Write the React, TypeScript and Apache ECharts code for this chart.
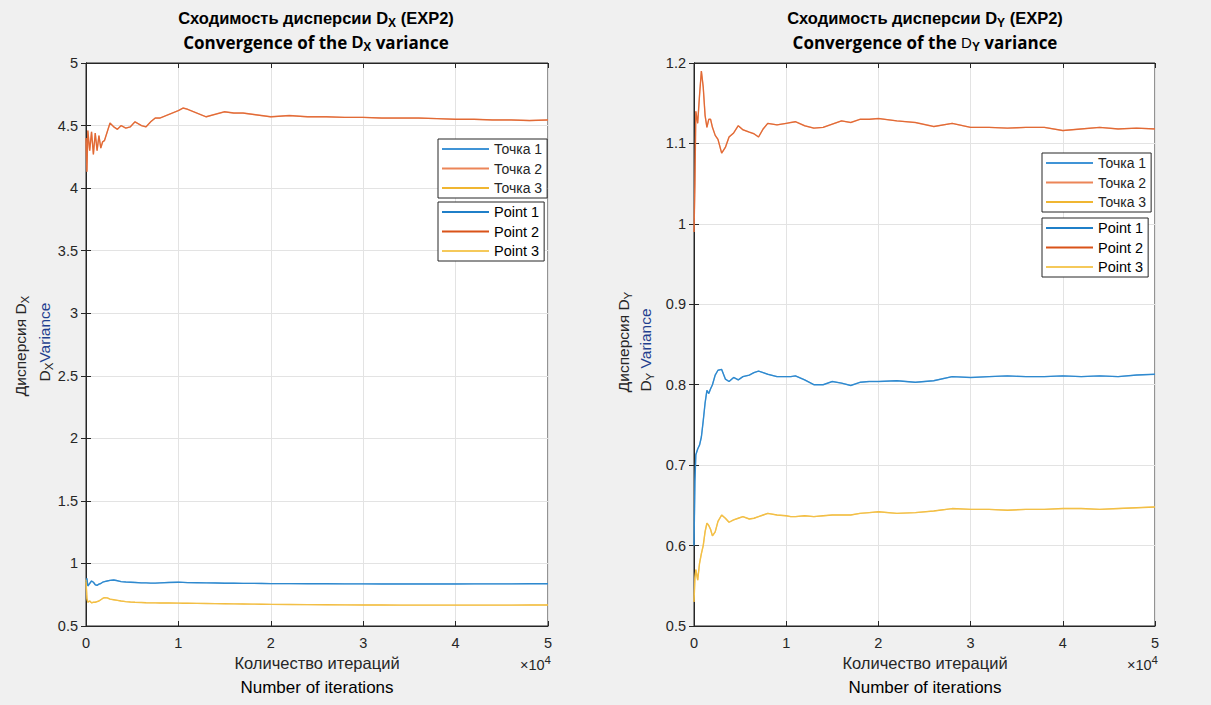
import React, { useEffect, useRef } from "react";
import * as echarts from "echarts";

const iterations = [
  0, 100, 200, 400, 600, 800, 1000, 1200, 1400, 1600, 1800, 2000, 2300, 2600, 3000, 3400, 3800, 4300, 4800, 5300,
  6000, 6500, 7000, 7500, 8000, 9000, 10000, 10500, 11000, 12000, 13000, 14000, 15000, 16000, 17000, 18000, 19000,
  20000, 22000, 24000, 26000, 28000, 30000, 32000, 34000, 36000, 38000, 40000, 42000, 44000, 46000, 48000, 50000,
];

const dxPoint1 = [
  0.85, 0.88, 0.82, 0.84, 0.86, 0.85, 0.83, 0.825, 0.835, 0.84, 0.85, 0.855, 0.86, 0.865, 0.868, 0.862, 0.855, 0.852,
  0.85, 0.848, 0.845, 0.845, 0.843, 0.843, 0.845, 0.848, 0.85, 0.849, 0.847, 0.846, 0.845, 0.844, 0.842, 0.842, 0.841,
  0.841, 0.84, 0.839, 0.839, 0.838, 0.838, 0.837, 0.837, 0.836, 0.836, 0.836, 0.836, 0.836, 0.837, 0.837, 0.837,
  0.838, 0.838,
];
const dxPoint2 = [
  4.4, 4.13, 4.46, 4.3, 4.45, 4.27, 4.44, 4.3, 4.42, 4.32, 4.37, 4.38, 4.45, 4.52, 4.49, 4.47, 4.5, 4.48, 4.49, 4.53,
  4.5, 4.49, 4.53, 4.56, 4.56, 4.59, 4.62, 4.64, 4.63, 4.6, 4.57, 4.59, 4.61, 4.6, 4.6, 4.59, 4.58, 4.57, 4.58, 4.57,
  4.57, 4.565, 4.565, 4.56, 4.56, 4.56, 4.555, 4.55, 4.55, 4.545, 4.545, 4.54, 4.545,
];
const dxPoint3 = [
  0.87, 0.72, 0.69, 0.7, 0.685, 0.69, 0.69, 0.695, 0.7, 0.71, 0.72, 0.727, 0.725, 0.715, 0.71, 0.705, 0.7, 0.695,
  0.692, 0.69, 0.688, 0.686, 0.685, 0.685, 0.684, 0.684, 0.683, 0.682, 0.682, 0.681, 0.68, 0.679, 0.678, 0.677,
  0.676, 0.675, 0.674, 0.673, 0.672, 0.671, 0.67, 0.669, 0.668, 0.668, 0.667, 0.667, 0.667, 0.667, 0.667, 0.667,
  0.667, 0.668, 0.668,
];

const dyPoint1 = [
  0.6, 0.68, 0.713, 0.72, 0.725, 0.735, 0.755, 0.777, 0.793, 0.789, 0.795, 0.8, 0.812, 0.818, 0.819, 0.807, 0.804,
  0.809, 0.806, 0.81, 0.812, 0.815, 0.817, 0.815, 0.813, 0.81, 0.81, 0.81, 0.811, 0.806, 0.8, 0.8, 0.804, 0.802,
  0.799, 0.803, 0.804, 0.804, 0.805, 0.803, 0.805, 0.81, 0.809, 0.81, 0.811, 0.81, 0.81, 0.811, 0.81, 0.811, 0.81,
  0.812, 0.813,
];
const dyPoint2 = [
  0.99, 1.05, 1.14, 1.125, 1.16, 1.19, 1.17, 1.135, 1.12, 1.13, 1.13, 1.12, 1.11, 1.105, 1.088, 1.095, 1.108, 1.113,
  1.122, 1.117, 1.114, 1.112, 1.108, 1.118, 1.125, 1.123, 1.125, 1.126, 1.127, 1.122, 1.119, 1.12, 1.124, 1.128,
  1.126, 1.13, 1.13, 1.131, 1.128, 1.126, 1.121, 1.125, 1.12, 1.12, 1.119, 1.12, 1.12, 1.116, 1.118, 1.12, 1.118,
  1.119, 1.118,
];
const dyPoint3 = [
  0.53, 0.56, 0.57, 0.557, 0.578, 0.59, 0.6, 0.617, 0.628, 0.625, 0.62, 0.612, 0.617, 0.63, 0.638, 0.634, 0.629,
  0.632, 0.634, 0.636, 0.633, 0.634, 0.636, 0.638, 0.64, 0.638, 0.637, 0.636, 0.636, 0.637, 0.636, 0.637, 0.638,
  0.638, 0.638, 0.64, 0.641, 0.642, 0.64, 0.641, 0.643, 0.646, 0.645, 0.645, 0.644, 0.645, 0.645, 0.646, 0.646,
  0.645, 0.646, 0.647, 0.648,
];

const ruNames = ["Точка 1", "Точка 2", "Точка 3"];
const enNames = ["Point 1", "Point 2", "Point 3"];
const ruColors = ["#4094d6", "#ec8558", "#f0b631"];
const enColors = ["#1f7fc8", "#d95319", "#f5c95a"];

const F = "Liberation Sans, Arial, sans-serif";
const F2 = "Open Sans, Liberation Sans, sans-serif";
const AX = "#262626";

function App() {
  const ref = useRef<HTMLDivElement>(null);
  useEffect(() => {
    if (!ref.current) return;
    const chart = echarts.init(ref.current, undefined, { renderer: "svg" });

    const grids = [
      { left: 86, top: 63, width: 462, height: 563 },
      { left: 694, top: 63, width: 461, height: 563 },
    ];
    const yRanges = [
      { min: 0.5, max: 5, interval: 0.5 },
      { min: 0.5, max: 1.2, interval: 0.1 },
    ];

    const xAxes: any[] = [];
    const yAxes: any[] = [];
    grids.forEach((g, gi) => {
      xAxes.push({
        type: "value",
        gridIndex: gi,
        min: 0,
        max: 50000,
        interval: 10000,
        position: "bottom",
        axisLine: { show: true, lineStyle: { color: AX, width: 1 } },
        axisTick: { show: true, inside: true, length: 5, lineStyle: { color: AX } },
        axisLabel: { color: AX, fontSize: 14.5, fontFamily: F, margin: 9, formatter: (v: number) => String(v / 10000) },
        splitLine: { show: true, lineStyle: { color: "#e3e3e3", width: 1 } },
      });
      xAxes.push({
        type: "value",
        gridIndex: gi,
        min: 0,
        max: 50000,
        interval: 10000,
        position: "top",
        axisLine: { show: true, lineStyle: { color: AX, width: 1 } },
        axisTick: { show: true, inside: true, length: 5, lineStyle: { color: AX } },
        axisLabel: { show: false },
        splitLine: { show: false },
      });
      yAxes.push({
        type: "value",
        gridIndex: gi,
        ...yRanges[gi],
        position: "left",
        axisLine: { show: true, lineStyle: { color: AX, width: 1 } },
        axisTick: { show: true, inside: true, length: 5, lineStyle: { color: AX } },
        axisLabel: { color: AX, fontSize: 14.5, fontFamily: F, margin: 8 },
        splitLine: { show: true, lineStyle: { color: "#e3e3e3", width: 1 } },
      });
      yAxes.push({
        type: "value",
        gridIndex: gi,
        ...yRanges[gi],
        position: "right",
        axisLine: { show: true, lineStyle: { color: AX, width: 1 } },
        axisTick: { show: true, inside: true, length: 5, lineStyle: { color: AX } },
        axisLabel: { show: false },
        splitLine: { show: false },
      });
    });

    const dataSets = [
      [dxPoint1, dxPoint2, dxPoint3],
      [dyPoint1, dyPoint2, dyPoint3],
    ];
    const series: any[] = [];
    dataSets.forEach((sets, gi) => {
      sets.forEach((vals, k) => {
        const data = iterations.map((x, i) => [x, vals[i]]);
        series.push({
          type: "line",
          name: ruNames[k],
          xAxisIndex: gi * 2,
          yAxisIndex: gi * 2,
          data,
          showSymbol: false,
          symbol: "none",
          color: ruColors[k],
          lineStyle: { width: 1.4, color: ruColors[k] },
          z: 2,
        });
      });
      sets.forEach((vals, k) => {
        const data = iterations.map((x, i) => [x, vals[i]]);
        series.push({
          type: "line",
          name: enNames[k],
          xAxisIndex: gi * 2,
          yAxisIndex: gi * 2,
          data,
          showSymbol: false,
          symbol: "none",
          color: enColors[k],
          lineStyle: { width: 1.2, color: enColors[k], opacity: 0.55 },
          z: 3,
        });
      });
    });

    const legendBase = {
      orient: "vertical",
      backgroundColor: "#ffffff",
      borderColor: AX,
      borderWidth: 1,
      borderRadius: 0,
      padding: [1, 5, 1, 4],
      itemGap: 1.5,
      itemWidth: 47,
      itemHeight: 2,
      icon: "rect",
      selectedMode: false,
    };
    const ruText = { fontSize: 14, color: AX, fontFamily: F, lineHeight: 18 };
    const enText = { fontSize: 14.5, color: "#000", fontFamily: F, lineHeight: 18 };
    const legends = [
      { ...legendBase, data: ruNames, left: 438, top: 139, textStyle: ruText },
      { ...legendBase, data: enNames, left: 438, top: 202, textStyle: enText },
      { ...legendBase, data: ruNames, left: 1042, top: 153, textStyle: ruText },
      { ...legendBase, data: enNames, left: 1042, top: 218, textStyle: enText },
    ];

    const mkTitle = (cx: number, letter: string, boldD: boolean) => [
      {
        type: "text",
        x: cx,
        y: 18,
        style: {
          text: `{a|Сходимость дисперсии D}{s|${letter}}{a| (EXP2)}`,
          rich: {
            a: { fontSize: 16.5, fontWeight: "bold", fontFamily: F, fill: "#000", lineHeight: 22 },
            s: { fontSize: 12, fontWeight: "bold", fontFamily: F, fill: "#000", verticalAlign: "bottom" },
          },
          align: "center",
          verticalAlign: "middle",
        },
      },
      {
        type: "text",
        x: cx,
        y: 42,
        style: {
          text: `{c|Convergence of the }{d|D}{s|${letter}}{c| variance}`,
          rich: {
            c: { fontSize: 17, fontWeight: "bold", fontFamily: F2, fill: "#000", lineHeight: 22 },
            d: {
              fontSize: boldD ? 16 : 15,
              fontWeight: boldD ? "bold" : "normal",
              fontFamily: F,
              fill: "#000",
              lineHeight: 22,
            },
            s: { fontSize: 12, fontWeight: "bold", fontFamily: F, fill: "#000", verticalAlign: "bottom" },
          },
          align: "center",
          verticalAlign: "middle",
        },
      },
    ];

    const mkYLabel = (x1: number, x2: number, cy1: number, cy2: number, letter: string, space: string) => [
      {
        type: "text",
        x: x1,
        y: cy1,
        rotation: Math.PI / 2,
        style: {
          text: `{a|Дисперсия D}{s|${letter}}`,
          rich: {
            a: { fontSize: 15.5, fontFamily: F, fill: AX, lineHeight: 22 },
            s: { fontSize: 11.5, fontFamily: F, fill: AX, verticalAlign: "bottom" },
          },
          align: "center",
          verticalAlign: "middle",
        },
      },
      {
        type: "text",
        x: x2,
        y: cy2,
        rotation: Math.PI / 2,
        style: {
          text: `{a|D}{s|${letter}}{v|${space}Variance}`,
          rich: {
            a: { fontSize: 15.5, fontFamily: F, fill: AX, lineHeight: 22 },
            s: { fontSize: 11.5, fontFamily: F, fill: AX, verticalAlign: "bottom" },
            v: { fontSize: 15.5, fontFamily: F, fill: "#1f3f8f", lineHeight: 22 },
          },
          align: "center",
          verticalAlign: "middle",
        },
      },
    ];

    const mkXLabel = (cx: number) => [
      {
        type: "text",
        x: cx,
        y: 663,
        style: { text: "Количество итераций", fontSize: 16.5, fontFamily: F, fill: AX, align: "center", verticalAlign: "middle" },
      },
      {
        type: "text",
        x: cx,
        y: 687,
        style: { text: "Number of iterations", fontSize: 17, fontFamily: F, fill: "#000", align: "center", verticalAlign: "middle" },
      },
    ];

    const mkExp = (rx: number) => ({
      type: "text",
      x: rx,
      y: 665,
      style: {
        text: "{t|×10}{p|4}",
        rich: {
          t: { fontSize: 14.5, fontFamily: F, fill: AX, lineHeight: 22 },
          p: { fontSize: 11.5, fontFamily: F, fill: AX, verticalAlign: "top" },
        },
        align: "right",
        verticalAlign: "middle",
      },
    });

    chart.setOption({
      animation: false,
      backgroundColor: "#f0f0f0",
      grid: grids.map((g) => ({ ...g, show: true, backgroundColor: "#ffffff", borderColor: AX, borderWidth: 1 })),
      xAxis: xAxes,
      yAxis: yAxes,
      legend: legends,
      series,
      graphic: [
        ...mkTitle(316, "X", true),
        ...mkTitle(925, "Y", false),
        ...mkYLabel(20, 44, 346, 342, "X", ""),
        ...mkYLabel(623, 645, 342, 350, "Y", " "),
        ...mkXLabel(317),
        ...mkXLabel(925),
        mkExp(551),
        mkExp(1158),
      ],
    });

    return () => chart.dispose();
  }, []);

  return (
    <div
      ref={ref}
      style={{ position: "absolute", left: 0, top: 0, width: 1211, height: 705, background: "#f0f0f0" }}
    />
  );
}

export default App;
